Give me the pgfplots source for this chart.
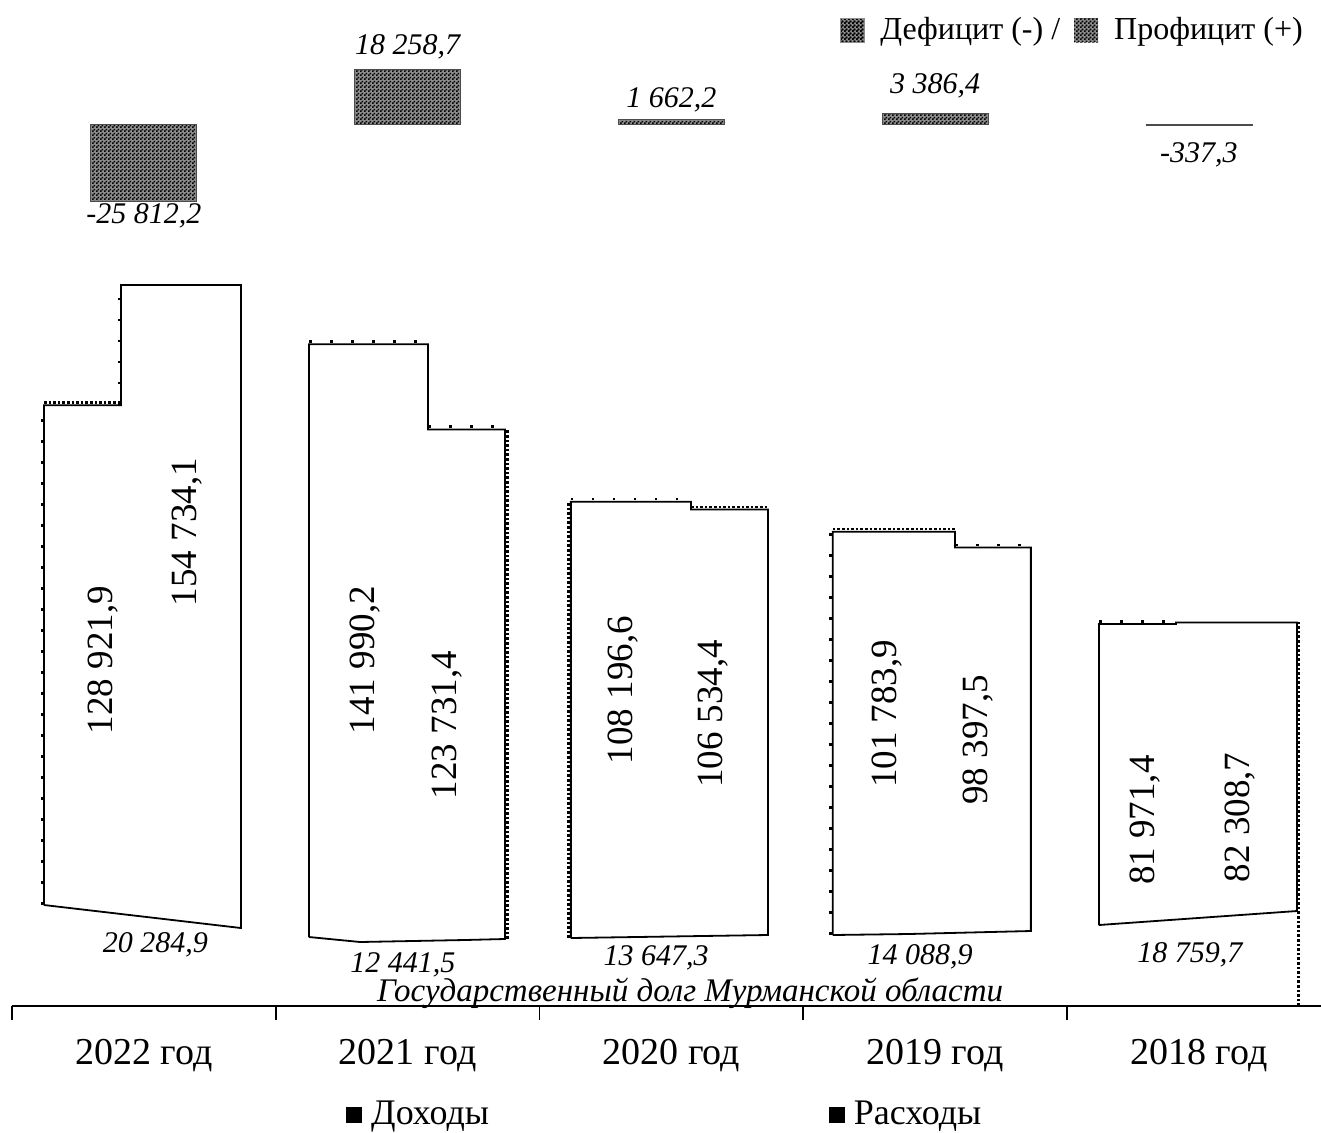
\documentclass[border=0pt]{standalone}
\usepackage{fontspec}
\setmainfont{Liberation Serif}
\usepackage{pgfplots}
\pgfplotsset{compat=1.18}
\usetikzlibrary{patterns}
\pgfdeclarepatternformonly{finecheck}{\pgfqpoint{0pt}{0pt}}{\pgfqpoint{2pt}{2pt}}{\pgfqpoint{2pt}{2pt}}{%
 \pgfpathrectangle{\pgfqpoint{0pt}{0pt}}{\pgfqpoint{1pt}{1pt}}%
 \pgfpathrectangle{\pgfqpoint{1pt}{1pt}}{\pgfqpoint{1pt}{1pt}}%
 \pgfusepath{fill}}
\tikzset{
 sparse/.style={line width=1.3pt, dash pattern=on 1.3pt off 9.2pt},
 dense/.style={line width=1.3pt, dash pattern=on 1.3pt off 1pt},
 outl/.style={draw=black, line width=0.9pt, line join=miter, fill=white},
 vlab/.style={rotate=90, font=\fontsize{18.5}{21}\selectfont},
 ilab/.style={font=\fontsize{15}{18}\selectfont\itshape},
 chk/.style={fill=black!45, postaction={pattern=finecheck}},
}
\begin{document}
\begin{tikzpicture}
% ---------------- main axis: income / expenses ----------------
\begin{axis}[at={(6pt,63pt)}, anchor=south west, scale only axis,
 width=654.5pt, height=503pt,
 xmin=-0.5, xmax=4.463, ymin=0, ymax=215880,
 axis x line*=bottom, axis y line=none, clip=false,
 x axis line style={line width=0.8pt},
 xtick={0,1,2,3,4},
 xticklabels={2022 год,2021 год,2020 год,2019 год,2018 год},
 major x tick style={draw=none},
 minor xtick={-0.5,0.5,1.5,2.5,3.5},
 minor tick length=7pt, tick align=outside,
 minor x tick style={line width=0.8pt, black},
 xticklabel style={font=\fontsize{19}{21}\selectfont, yshift=-9pt},
 legend style={at={(rel axis cs:0.2506,-0.108)}, anchor=west, draw=none, fill=none,
   font=\fontsize{18}{20}\selectfont, legend columns=2,
   /tikz/every odd column/.append style={column sep=2.5pt},
   /tikz/every even column/.append style={column sep=168pt}},
 legend image code/.code={\fill[black] (0pt,-3.8pt) rectangle (7.5pt,3.8pt);},
]
% bar pairs (income left, expenses right), bottom edge follows the debt line
\addplot[outl, forget plot] coordinates {(-0.379,21674) (-0.379,128921.9) (-0.087,128921.9) (-0.087,154734.1) (0.368,154734.1) (0.368,16738) (-0.379,21674)};
\addplot[outl, forget plot] coordinates {(0.626,14807) (0.626,141990.2) (1.077,141990.2) (1.077,123731.4) (1.369,123731.4) (1.369,14378) (1.217,14163) (0.820,13734) (0.626,14807)};
\addplot[outl, forget plot] coordinates {(1.619,14592) (1.619,108196.6) (2.074,108196.6) (2.074,106534.4) (2.366,106534.4) (2.366,15236) (1.619,14592)};
\addplot[outl, forget plot] coordinates {(2.612,15236) (2.612,101783.9) (3.075,101783.9) (3.075,98397.5) (3.363,98397.5) (3.363,16094) (2.900,15450) (2.612,15236)};
\addplot[outl, forget plot] coordinates {(3.621,17382) (3.621,81971.4) (3.913,81971.4) (3.913,82308.7) (4.372,82308.7) (4.372,20386) (3.621,17382)};
% dotted edges
\addplot[sparse, forget plot] coordinates {(-0.386,21674) (-0.386,128921.9)};
\addplot[dense, forget plot] coordinates {(-0.379,129550) (-0.087,129550)};
\addplot[sparse, forget plot] coordinates {(-0.094,128921.9) (-0.094,154734.1)};
\addplot[sparse, forget plot] coordinates {(0.626,142550) (1.077,142550)};
\addplot[sparse, forget plot] coordinates {(1.077,124300) (1.369,124300)};
\addplot[dense, forget plot] coordinates {(1.378,14378) (1.378,123731.4)};
\addplot[dense, forget plot] coordinates {(1.610,14592) (1.610,108196.6)};
\addplot[sparse, forget plot] coordinates {(1.619,108800) (2.074,108800)};
\addplot[dense, forget plot] coordinates {(2.074,107100) (2.366,107100)};
\addplot[sparse, forget plot] coordinates {(2.604,15236) (2.604,101783.9)};
\addplot[dense, forget plot] coordinates {(2.612,102350) (3.075,102350)};
\addplot[sparse, forget plot] coordinates {(3.075,98950) (3.363,98950)};
\addplot[sparse, forget plot] coordinates {(3.621,82550) (3.913,82550)};
\addplot[dense, forget plot] coordinates {(4.378,0) (4.378,82308.7)};
% value labels
\node[vlab] at (axis cs:-0.155,74250) {128 921,9};
\node[vlab] at (axis cs:0.163,101700) {154 734,1};
\node[vlab] at (axis cs:0.838,74250) {141 990,2};
\node[vlab] at (axis cs:1.149,60300) {123 731,4};
\node[vlab] at (axis cs:1.817,67800) {108 196,6};
\node[vlab] at (axis cs:2.158,62700) {106 534,4};
\node[vlab] at (axis cs:2.817,62700) {101 783,9};
\node[vlab] at (axis cs:3.162,57100) {98 397,5};
\node[vlab] at (axis cs:3.796,39900) {81 971,4};
\node[vlab] at (axis cs:4.156,40500) {82 308,7};
% debt labels
\node[ilab] at (axis cs:0.044,13100) {20 284,9};
\node[ilab] at (axis cs:0.982,8800) {12 441,5};
\node[ilab] at (axis cs:1.942,10300) {13 647,3};
\node[ilab] at (axis cs:2.943,10500) {14 088,9};
\node[ilab] at (axis cs:3.966,10900) {18 759,7};
\node[font=\fontsize{16.5}{18}\selectfont\itshape] at (axis cs:2.071,2800) {Государственный долг Мурманской области};
\addlegendimage{black}
\addlegendentry{Доходы}
\addlegendimage{black}
\addlegendentry{Расходы}
\end{axis}
% ---------------- deficit / surplus axis ----------------
\begin{axis}[at={(6pt,416pt)}, anchor=south west, scale only axis,
 width=654.5pt, height=150pt,
 xmin=-0.5, xmax=4.463, ymin=-58667, ymax=41333,
 axis lines=none, clip=false, ybar, bar width=53pt,
 legend style={at={(rel axis cs:0.994,0.9)}, anchor=east, draw=none, fill=none,
   font=\fontsize{16}{18}\selectfont, legend columns=2,
   /tikz/every odd column/.append style={column sep=6pt},
   /tikz/every even column/.append style={column sep=5pt}},
 legend image code/.code={\fill[black!45, postaction={pattern=finecheck}] (0pt,-6pt) rectangle (12pt,6pt);},
]
\addplot[draw=black!70, line width=0.4pt, chk] coordinates {(0,-25812.2) (1,18258.7) (2,1662.2) (3,3386.4) (4,-337.3)};
\addlegendentry{Дефицит (-) /}
\addlegendimage{draw=none}
\addlegendentry{Профицит (+)}
\node[ilab] at (axis cs:0,-30667) {-25 812,2};
\node[ilab] at (axis cs:1,25667) {18 258,7};
\node[ilab] at (axis cs:2,8000) {1 662,2};
\node[ilab] at (axis cs:3,12667) {3 386,4};
\node[ilab] at (axis cs:4,-10333) {-337,3};
\end{axis}
\pgfresetboundingbox
\useasboundingbox (0,0) rectangle (660.5pt,566pt);
\end{tikzpicture}
\end{document}
